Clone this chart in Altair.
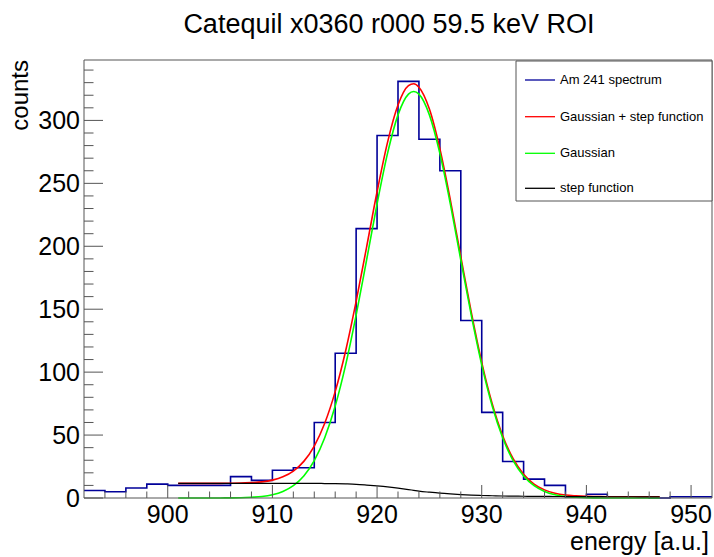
import altair as alt
import pandas as pd

# ---------------- data ----------------
bin_lo = list(range(892, 952, 2))
counts = [6, 5, 8, 11, 10, 10, 10, 17, 14, 22, 24, 60, 115, 214, 288,
          331, 285, 260, 141, 68, 29, 15, 10, 1, 3, 1, 1, 0, 1, 1]
bin_hi_last = 952

fit_x = [901, 902, 903, 904, 905, 906, 907, 908, 909, 910, 911, 912, 913, 914,
         915, 916, 917, 918, 919, 920, 921, 922, 923, 923.5, 924, 925, 926, 927,
         928, 929, 930, 931, 932, 933, 934, 935, 936, 937, 938, 939, 940, 941,
         942, 943, 944, 945, 946, 947]
gauss_step = [11.6, 11.6, 11.6, 11.6, 11.65, 11.7, 11.8, 12.2, 12.8, 14.2, 16.8,
              21.4, 29.1, 41.3, 59.4, 84.5, 117.0, 156.2, 199.4, 243.3, 282.6,
              312.2, 327.6, 329.1, 326.4, 309.0, 277.6, 236.9, 191.8, 147.6,
              107.8, 74.9, 49.5, 31.2, 18.9, 11.1, 6.45, 3.8, 2.35, 1.7, 1.3,
              1.15, 1.0, 1.0, 1.0, 0.95, 0.95, 0.95]
gauss = [0, 0, 0, 0, 0.05, 0.1, 0.2, 0.6, 1.2, 2.6, 5.2, 9.8, 17.5, 29.7, 47.9,
         73.1, 105.8, 145.3, 189.1, 233.7, 273.8, 304.4, 320.9, 323.0, 320.9,
         304.4, 273.8, 233.7, 189.1, 145.3, 105.8, 73.1, 47.9, 29.7, 17.5, 9.8,
         5.2, 2.6, 1.2, 0.6, 0.2, 0.1, 0, 0, 0, 0, 0, 0]
step = [11.6, 11.6, 11.6, 11.6, 11.6, 11.6, 11.6, 11.6, 11.6, 11.6, 11.6, 11.6,
        11.6, 11.6, 11.5, 11.4, 11.2, 10.9, 10.3, 9.6, 8.8, 7.8, 6.7, 6.1, 5.5,
        4.6, 3.8, 3.2, 2.7, 2.3, 2.0, 1.8, 1.6, 1.5, 1.4, 1.3, 1.25, 1.2, 1.15,
        1.1, 1.1, 1.05, 1.0, 1.0, 1.0, 0.95, 0.95, 0.95]

x_major = [900, 910, 920, 930, 940, 950]
x_minor = [v for v in range(894, 952, 2) if v % 10 != 0]
y_major = [0, 50, 100, 150, 200, 250, 300]
y_minor = [v for v in range(10, 348, 10) if v % 50 != 0]

legend_labels = ["Am 241 spectrum", "Gaussian + step function", "Gaussian", "step function"]
legend_colors = ["#000099", "#ff0000", "#00ff00", "#000000"]

title_text = "Catequil x0360 r000 59.5 keV ROI"
x_title = "energy [a.u.]"
y_title = "counts"

# ---------------- chart ----------------
W, H = 628, 438
FONT = "Liberation Sans"
FRAME = "#555555"
xs = alt.Scale(domain=[892, 952], nice=False, zero=False)
ys = alt.Scale(domain=[0, 348], nice=False, zero=False)

one = pd.DataFrame({"a": [0]})

hist_df = pd.DataFrame({"x": bin_lo + [bin_hi_last], "y": counts + [counts[-1]]})
fit_df = pd.DataFrame({"x": fit_x, "gs": gauss_step, "g": gauss, "s": step})

def curve(field, color, width):
    return alt.Chart(fit_df).mark_line(color=color, strokeWidth=width, interpolate="monotone").encode(
        x=alt.X("x:Q", scale=xs, axis=None),
        y=alt.Y(f"{field}:Q", scale=ys, axis=None),
    )

layers = []

layers.append(
    alt.Chart(hist_df).mark_line(interpolate="step-after", color=legend_colors[0], strokeWidth=1.6).encode(
        x=alt.X("x:Q", scale=xs, axis=None),
        y=alt.Y("y:Q", scale=ys, axis=None),
    )
)
layers.append(curve("gs", legend_colors[1], 1.6))
layers.append(curve("g", legend_colors[2], 1.6))
layers.append(curve("s", legend_colors[3], 1.2))

# ticks (inward, ROOT style)
layers.append(alt.Chart(pd.DataFrame({"v": x_major})).mark_rule(color=FRAME, strokeWidth=1).encode(
    x=alt.X("v:Q", scale=xs, axis=None), y=alt.value(H), y2=alt.value(H - 13)))
layers.append(alt.Chart(pd.DataFrame({"v": x_minor})).mark_rule(color=FRAME, strokeWidth=1).encode(
    x=alt.X("v:Q", scale=xs, axis=None), y=alt.value(H), y2=alt.value(H - 6.5)))
layers.append(alt.Chart(pd.DataFrame({"v": y_major})).mark_rule(color=FRAME, strokeWidth=1).encode(
    y=alt.Y("v:Q", scale=ys, axis=None), x=alt.value(0), x2=alt.value(19)))
layers.append(alt.Chart(pd.DataFrame({"v": y_minor})).mark_rule(color=FRAME, strokeWidth=1).encode(
    y=alt.Y("v:Q", scale=ys, axis=None), x=alt.value(0), x2=alt.value(9.5)))

# tick labels
layers.append(alt.Chart(pd.DataFrame({"v": x_major})).mark_text(
    font=FONT, fontSize=25, align="center", baseline="alphabetic", color="black").encode(
    x=alt.X("v:Q", scale=xs, axis=None), y=alt.value(H + 25), text=alt.Text("v:Q", format="d")))
layers.append(alt.Chart(pd.DataFrame({"v": y_major})).mark_text(
    font=FONT, fontSize=25, align="right", baseline="middle", dy=1, color="black").encode(
    y=alt.Y("v:Q", scale=ys, axis=None), x=alt.value(-4), text=alt.Text("v:Q", format="d")))

# frame
layers.append(alt.Chart(one).mark_rect(fillOpacity=0, stroke=FRAME, strokeWidth=1).encode(
    x=alt.value(0), x2=alt.value(W), y=alt.value(0), y2=alt.value(H)))

# axis titles and title
layers.append(alt.Chart(one).mark_text(font=FONT, fontSize=24, align="right", baseline="alphabetic",
                                       angle=270, color="black").encode(
    x=alt.value(-56), y=alt.value(0), text=alt.value(y_title)))
layers.append(alt.Chart(one).mark_text(font=FONT, fontSize=25, align="right", baseline="alphabetic",
                                       color="black").encode(
    x=alt.value(625), y=alt.value(490), text=alt.value(x_title)))
layers.append(alt.Chart(one).mark_text(font=FONT, fontSize=27, align="center", baseline="alphabetic",
                                       color="black").encode(
    x=alt.value(305), y=alt.value(-27), text=alt.value(title_text)))

# legend
LX0, LX1, LY0, LY1 = 432, 628, 1, 141
layers.append(alt.Chart(one).mark_rect(fill="white", stroke=FRAME, strokeWidth=1).encode(
    x=alt.value(LX0), x2=alt.value(LX1), y=alt.value(LY0), y2=alt.value(LY1)))
row_y = [20, 56.7, 93.3, 128.3]
for lab, col, yy in zip(legend_labels, legend_colors, row_y):
    layers.append(alt.Chart(one).mark_rule(color=col, strokeWidth=1.3).encode(
        x=alt.value(441), x2=alt.value(471), y=alt.value(yy)))
    layers.append(alt.Chart(one).mark_text(font=FONT, fontSize=13, align="left", baseline="middle",
                                           color="black").encode(
        x=alt.value(476), y=alt.value(yy), text=alt.value(lab)))

chart = alt.layer(*layers).properties(
    width=W, height=H,
    padding={"left": 84, "top": 60, "right": 2, "bottom": 59},
    autosize=alt.AutoSizeParams(type="none"),
    background="white",
).configure_view(strokeWidth=0)

chart.save("out.html", embed_options={"renderer": "svg", "actions": False})
